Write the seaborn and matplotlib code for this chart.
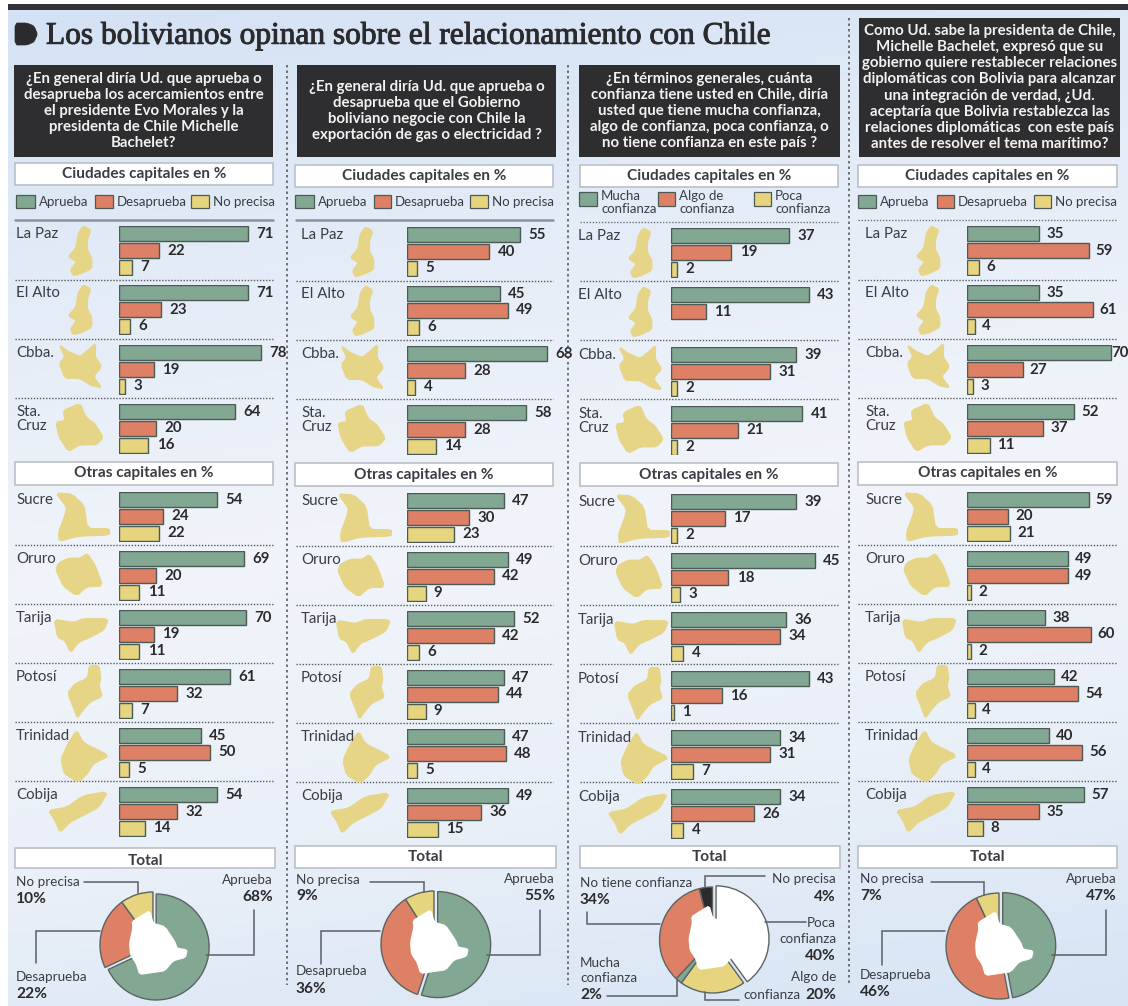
import numpy as np
import pandas as pd
import matplotlib
matplotlib.use("Agg")
import matplotlib.pyplot as plt
import matplotlib.patheffects as pe
from matplotlib.colors import LinearSegmentedColormap
from matplotlib.patches import Rectangle, Polygon
import seaborn as sns

# ---------- DATA ----------
title = "Los bolivianos opinan sobre el relacionamiento con Chile"
cities_a = ["La Paz", "El Alto", "Cbba.", "Sta.\nCruz"]
cities_b = ["Sucre", "Oruro", "Tarija", "Potosí", "Trinidad", "Cobija"]
cities = cities_a + cities_b

series_std = ["Aprueba", "Desaprueba", "No precisa"]
series_conf = ["Mucha\nconfianza", "Algo de\nconfianza", "Poca\nconfianza"]

q1 = "¿En general diría Ud. que aprueba o\ndesaprueba los acercamientos entre\nel presidente Evo Morales y la\npresidenta de Chile Michelle\nBachelet?"
q2 = "¿En general diría Ud. que aprueba o\ndesaprueba que el Gobierno\nboliviano negocie con Chile la\nexportación de gas o electricidad ?"
q3 = "¿En términos generales, cuánta\nconfianza tiene usted en Chile, diría\nusted que tiene mucha confianza,\nalgo de confianza, poca confianza, o\nno tiene confianza en este país ?"
q4 = "Como Ud. sabe la presidenta de Chile,\nMichelle Bachelet, expresó que su\ngobierno quiere restablecer relaciones\ndiplomáticas con Bolivia para alcanzar\nuna integración de verdad, ¿Ud.\naceptaría que Bolivia restablezca las\nrelaciones diplomáticas  con este país\nantes de resolver el tema marítimo?"

c1_first = [71, 71, 78, 64, 54, 69, 70, 61, 45, 54]
c1_second = [22, 23, 19, 20, 24, 20, 19, 32, 50, 32]
c1_third = [7, 6, 3, 16, 22, 11, 11, 7, 5, 14]

c2_first = [55, 45, 68, 58, 47, 49, 52, 47, 47, 49]
c2_second = [40, 49, 28, 28, 30, 42, 42, 44, 48, 36]
c2_third = [5, 6, 4, 14, 23, 9, 6, 9, 5, 15]

c3_first = [37, 43, 39, 41, 39, 45, 36, 43, 34, 34]
c3_second = [19, 11, 31, 21, 17, 18, 34, 16, 31, 26]
c3_third = [2, None, 2, 2, 2, 3, 4, 1, 7, 4]

c4_first = [35, 35, 70, 52, 59, 49, 38, 42, 40, 57]
c4_second = [59, 61, 27, 37, 20, 49, 60, 54, 56, 35]
c4_third = [6, 4, 3, 11, 21, 2, 2, 4, 4, 8]

pie1_values = [68, 22, 10]
pie2_values = [55, 36, 9]
pie3_values = [40, 20, 2, 34, 4]
pie4_values = [47, 46, 7]

# ---------- STYLE ----------
W, H = 1128, 1006
GREEN, RED, YELLOW = "#82a893", "#de8065", "#e6d57e"
MAP = "#e6d487"
EDGE = "#4c5a55"
INK = "#2b2b2d"
TXT = "#3a3d44"
BOX = "#2e2d2f"
SANS = "Lato"
sns.set_theme(style="white")
plt.rcParams["font.family"] = [SANS, "DejaVu Sans"]


def px(n):
    return n * 0.72


fig = plt.figure(figsize=(W / 100, H / 100), dpi=100, facecolor="white")


def axes_px(x0, y0, x1, y1, **kw):
    return fig.add_axes([x0 / W, 1 - y1 / H, (x1 - x0) / W, (y1 - y0) / H], **kw)


def smooth(points, passes=1):
    """Round an outline by corner cutting so the sketches look hand drawn."""
    pts = np.asarray(points, dtype=float)
    for _ in range(passes):
        nxt = np.roll(pts, -1, axis=0)
        pts = np.column_stack([0.85 * pts + 0.15 * nxt, 0.15 * pts + 0.85 * nxt]).reshape(-1, 2)
    return pts


# ---------- BACKGROUND ----------
bg = fig.add_axes([0, 0, 1, 1], zorder=0)
cmap = LinearSegmentedColormap.from_list("paper", ["#d3e2f4", "#e4ecf7", "#f1f4fa", "#eaf0f8", "#d6e4f4"])
yy = np.linspace(0, 1, 256)[:, None]
xx = np.linspace(0, 1, 128)[None, :]
grad = yy * 0.85 + 0.15 * xx
bg.imshow(grad, extent=(8, W, H, 10), aspect="auto", cmap=cmap, vmin=0, vmax=1, zorder=0)
bg.set_xlim(0, W)
bg.set_ylim(H, 0)
bg.axis("off")
bg.add_patch(Rectangle((8, 4), W - 8, 6, fc="#333335", ec="none", zorder=2))
bg.add_patch(Polygon(smooth([(15, 23), (27, 23), (34, 26), (37.5, 34), (34, 42), (27, 45), (15, 45)]), fc=INK, ec=INK, lw=0.5, zorder=2))
bg.text(46, 36, title, family="Liberation Serif", fontsize=px(31.4), color=INK, va="center", ha="left", zorder=3,
        path_effects=[pe.withStroke(linewidth=0.7, foreground=INK)])

for xd, y0 in [(287, 65), (568, 65), (849, 18)]:
    bg.plot([xd, xd], [y0, 985], color="#4a4f58", lw=1.1, ls=(0, (1.6, 2.0)), zorder=2)


# ---------- MAP SHAPES (outline sketches, pixels relative to row top) ----------
def rel(points, zy_row):
    return [(a / 3, (b - zy_row) / 3) for a, b in points]


la_paz = rel([(250, 18), (272, 30), (262, 60), (262, 90), (275, 115), (275, 145), (245, 160), (220, 167), (212, 150),
              (230, 125), (205, 110), (228, 85), (235, 40)], 18)
shapes = [
    la_paz,
    la_paz,
    rel([(178, 375), (205, 395), (240, 410), (265, 390), (287, 370), (285, 410), (305, 440), (280, 470), (305, 503),
         (275, 497), (240, 475), (195, 475), (178, 430), (195, 410)], 375),
    rel([(190, 570), (240, 548), (258, 590), (285, 610), (310, 650), (290, 672), (240, 672), (205, 692), (178, 650),
         (168, 605), (195, 600)], 550),
    rel([(168, 98), (215, 101), (252, 135), (262, 205), (328, 205), (328, 224), (235, 227), (178, 243), (176, 215),
         (195, 165), (200, 140)], 95),
    rel([(205, 295), (240, 295), (262, 281), (285, 315), (308, 378), (260, 380), (230, 407), (190, 378), (168, 330),
         (175, 310)], 273),
    rel([(163, 478), (220, 488), (250, 476), (325, 476), (312, 510), (270, 532), (235, 547), (212, 578), (195, 542),
         (173, 532)], 450),
    rel([(268, 18), (297, 18), (302, 55), (297, 80), (307, 110), (270, 127), (250, 150), (232, 175), (223, 150),
         (203, 100), (225, 73), (263, 55)], 28),
    rel([(230, 212), (250, 250), (328, 288), (280, 312), (262, 342), (235, 368), (193, 342), (183, 300), (205, 250)], 205),
    rel([(323, 396), (297, 442), (250, 467), (210, 487), (180, 518), (165, 482), (145, 453), (200, 443), (250, 408)], 382),
]
bolivia = [((a - 190) / 3, (b - 180) / 3) for a, b in
           [(180, 78), (190, 115), (225, 125), (255, 170), (262, 190), (292, 195), (287, 217), (250, 227), (225, 257),
            (190, 262), (150, 268), (140, 235), (123, 210), (120, 175), (130, 130), (128, 110), (155, 93)]]

# ---------- COLUMN LAYOUT ----------
row_tops = [226, 285, 345, 404, 492, 551, 610, 669, 728, 787]
seps = [280, 339, 398, 545, 604, 663, 722, 781]
columns = [
    dict(q=q1, qbox=(14, 65, 273, 157), head=(15, 163, 273, 185), otras=(15, 462, 273, 485), total=(15, 848, 275, 868), total_y=861,
         vals=(c1_first, c1_second, c1_third), x0=119.5, scale=1.81, cityx=16, mapdx=0, dy=0, series=series_std,
         rule=(15, 273, 220, "-"), pad=6,
         swatches=[(16, 195, 35, 208), (95, 195, 113, 208), (191, 195, 209, 208)], ltext=[38.5, 117, 213]),
    dict(q=q2, qbox=(297, 65, 556, 157), head=(295, 165, 553, 187), otras=(295, 463, 553, 486), total=(295, 846, 556, 868), total_y=857,
         vals=(c2_first, c2_second, c2_third), x0=407, scale=2.06, cityx=301, mapdx=282, dy=1, series=series_std,
         rule=(296, 553, 220, "-"), pad=6,
         swatches=[(295, 195, 314, 208), (373.5, 195, 391, 208), (470, 195, 488, 208)], ltext=[318, 395, 492]),
    dict(q=q3, qbox=(579, 65, 840, 157), head=(580, 165, 838, 187), otras=(580, 463, 838, 486), total=(580, 846, 840, 868), total_y=857,
         vals=(c3_first, c3_second, c3_third), x0=670.5, scale=3.21, cityx=578, mapdx=560, dy=2, series=series_conf,
         rule=(580, 838, 222, ":"), pad=6,
         swatches=[(579, 192, 597, 206), (658, 192, 675, 206), (754, 192, 771, 206)], ltext=[601, 679, 775]),
    dict(q=q4, qbox=(859, 18, 1120, 157), head=(858, 165, 1117, 187), otras=(858, 462, 1117, 485), total=(858, 846, 1117, 868), total_y=857,
         vals=(c4_first, c4_second, c4_third), x0=967, scale=2.06, cityx=865, mapdx=848, dy=0, series=series_std,
         rule=(858, 1117, 220, ":"), pad=5,
         swatches=[(858, 195, 876, 208), (937, 195, 954, 208), (1033.5, 195, 1051, 208)], ltext=[880, 958, 1055]),
]
palette_colors = [GREEN, RED, YELLOW]


def white_box(rect, label, ty=None):
    x0, y0, x1, y1 = rect
    bg.add_patch(Rectangle((x0, y0), x1 - x0, y1 - y0, fc="white", ec="#b6bcc2", lw=1.1, zorder=3))
    bg.text((x0 + x1) / 2, (y0 + y1) / 2 if ty is None else ty, label, ha="center", va="center",
            fontweight="bold", fontsize=px(15.4), color=TXT, zorder=4)


for col in columns:
    # question
    x0, y0, x1, y1 = col["qbox"]
    bg.add_patch(Rectangle((x0, y0), x1 - x0, y1 - y0, fc=BOX, ec="none", zorder=3))
    bg.text((x0 + x1) / 2, (y0 + y1) / 2, col["q"], ha="center", va="center", color="#f2f2f2", fontweight="bold",
            fontsize=px(15), linespacing=1.2, zorder=4)
    white_box(col["head"], "Ciudades capitales en %")
    white_box(col["otras"], "Otras capitales en %")
    white_box(col["total"], "Total", col["total_y"])

    # legend
    for sw, lx, lab, c in zip(col["swatches"], col["ltext"], col["series"], palette_colors):
        bg.add_patch(Rectangle((sw[0], sw[1]), sw[2] - sw[0], sw[3] - sw[1], fc=c, ec=EDGE, lw=0.9, zorder=3))
        bg.text(lx, (sw[1] + sw[3]) / 2 if "\n" not in lab else sw[1] - 2, lab, ha="left",
                va="center" if "\n" not in lab else "top", fontsize=px(13.3), color=TXT, linespacing=1.1, zorder=4)

    # rule + separators
    rx0, rx1, ry, rstyle = col["rule"]
    bg.plot([rx0, rx1], [ry, ry], color="#8b929c" if rstyle == "-" else "#6e747c", lw=1.8 if rstyle == "-" else 1.0,
            ls="-" if rstyle == "-" else (0, (1, 1.2)), zorder=3)
    for s in seps:
        bg.plot([rx0, rx1], [s + col["dy"] * 0.5] * 2, color="#555b63", lw=1.0, ls=(0, (1, 1.2)), zorder=3)

    # rows
    a, b, c = col["vals"]
    for i, city in enumerate(cities):
        top = row_tops[i] + col["dy"]
        bg.text(col["cityx"], top + 1, city, ha="left", va="top", fontsize=px(15), color=TXT, linespacing=1.0, zorder=4)
        outline = smooth([(p + col["mapdx"], top + q) for p, q in shapes[i]])
        bg.add_patch(Polygon(outline, fc=MAP, ec=MAP, lw=1, joinstyle="round", zorder=3))
        df = pd.DataFrame({"serie": series_std, "valor": [a[i], b[i], c[i]]}).dropna()
        ax = axes_px(col["x0"], top - 0.5, col["x0"] + 80 * col["scale"], top + 49.5, zorder=2)
        ax.patch.set_alpha(0)
        sns.barplot(data=df, y="serie", x="valor", hue="serie", order=series_std, hue_order=series_std,
                    palette=palette_colors, saturation=1, width=0.9, edgecolor=EDGE, linewidth=1.0, legend=False, ax=ax)
        ax.set_xlim(0, 80)
        ax.set_ylim(2.5, -0.5)
        ax.axis("off")
        for cont in ax.containers:
            if len(cont) == 0:
                continue
            end = col["x0"] + cont[0].get_width() * col["scale"]
            pad = col["pad"] if end + col["pad"] + 17 < W else W - end - 17
            ax.bar_label(cont, fmt="%.0f", padding=pad, fontsize=px(15), fontweight="bold", color=INK, clip_on=False)


# ---------- TOTAL PIES ----------
def pie(values, colors, cx, cy, explode, r=53):
    ax = axes_px(cx - 62, cy - 62, cx + 62, cy + 62, zorder=3)
    ax.patch.set_alpha(0)
    ax.pie(values, colors=colors, startangle=90, counterclock=False, explode=explode, radius=r / 62,
           wedgeprops=dict(edgecolor="#5c6462", linewidth=1.0))
    ax.set_xlim(-1, 1)
    ax.set_ylim(-1, 1)


pie(pie1_values, [GREEN, RED, YELLOW], 153, 945, (0.06, 0, 0))
pie(pie2_values, [GREEN, RED, YELLOW], 434, 944, (0.06, 0, 0))
pie(pie3_values, ["white", YELLOW, GREEN, RED, INK], 712.5, 940, (0.06, 0, 0, 0, 0))
pie(pie4_values, [GREEN, RED, YELLOW], 999, 946, (0.06, 0, 0))

top = fig.add_axes([0, 0, 1, 1], zorder=5)
top.set_xlim(0, W)
top.set_ylim(H, 0)
top.axis("off")
for cx, cy in [(153, 945), (434, 944), (712.5, 940), (999, 946)]:
    top.add_patch(Polygon(smooth([(cx + a, cy + b) for a, b in bolivia]), fc="white", ec="white", lw=1, zorder=5))


def leader(pts):
    xs, ys = zip(*pts)
    top.plot(xs, ys, color="#5a5f66", lw=1.1, solid_joinstyle="miter", zorder=4)


def note(x, y, s, ha="left", bold=False):
    top.text(x, y, s, ha=ha, va="center", fontsize=px(15.5 if bold else 13.5), fontweight="bold" if bold else "normal",
             color=INK if bold else TXT, zorder=6, linespacing=1.0)


# column 1
note(16, 882, "No precisa"); note(16, 899, f"{pie1_values[2]}%", bold=True)
note(273, 880, "Aprueba", "right"); note(273, 897, f"{pie1_values[0]}%", "right", True)
note(16, 977, "Desaprueba"); note(16, 994, f"{pie1_values[1]}%", bold=True)
leader([(84, 882), (137.5, 882), (137.5, 893)])
leader([(254, 910), (254, 955), (206, 955)])
leader([(100, 931), (36, 931), (36, 963)])
# column 2
note(296, 880, "No precisa"); note(296, 896, f"{pie2_values[2]}%", bold=True)
note(555, 879, "Aprueba", "right"); note(555, 896, f"{pie2_values[0]}%", "right", True)
note(296, 971, "Desaprueba"); note(296, 989, f"{pie2_values[1]}%", bold=True)
leader([(370, 882), (424, 882), (424, 892)])
leader([(540, 910), (540, 955), (487, 955)])
leader([(380, 931), (321, 931), (321, 964)])
# column 3
note(580, 883, "No tiene confianza"); note(580, 900, f"{pie3_values[3]}%", bold=True)
note(836, 879, "No precisa", "right"); note(836, 897, f"{pie3_values[4]}%", "right", True)
note(836, 923, "Poca", "right"); note(836, 939, "confianza", "right"); note(836, 956, f"{pie3_values[0]}%", "right", True)
note(836, 977, "Algo de", "right"); note(800, 995, "confianza", "right"); note(836, 995, f"{pie3_values[1]}%", "right", True)
note(580, 963, "Mucha"); note(580, 978, "confianza"); note(580, 995, f"{pie3_values[2]}%", bold=True)
leader([(587, 912), (587, 924), (660, 924)])
leader([(765, 876), (705, 876), (705, 887)])
leader([(806, 922), (765, 922)])
leader([(705, 992), (705, 1000), (739, 1000)])
leader([(607, 996), (677, 996), (677, 980)])
# column 4
note(860, 879, "No precisa"); note(860, 896, f"{pie4_values[2]}%", bold=True)
note(1117, 879, "Aprueba", "right"); note(1117, 896, f"{pie4_values[0]}%", "right", True)
note(860, 975, "Desaprueba"); note(860, 992, f"{pie4_values[1]}%", bold=True)
leader([(931, 882), (984, 882), (984, 895)])
leader([(1106, 910), (1106, 955), (1052, 955)])
leader([(945, 931), (882, 931), (882, 965)])

fig.savefig("out.png", dpi=100)
